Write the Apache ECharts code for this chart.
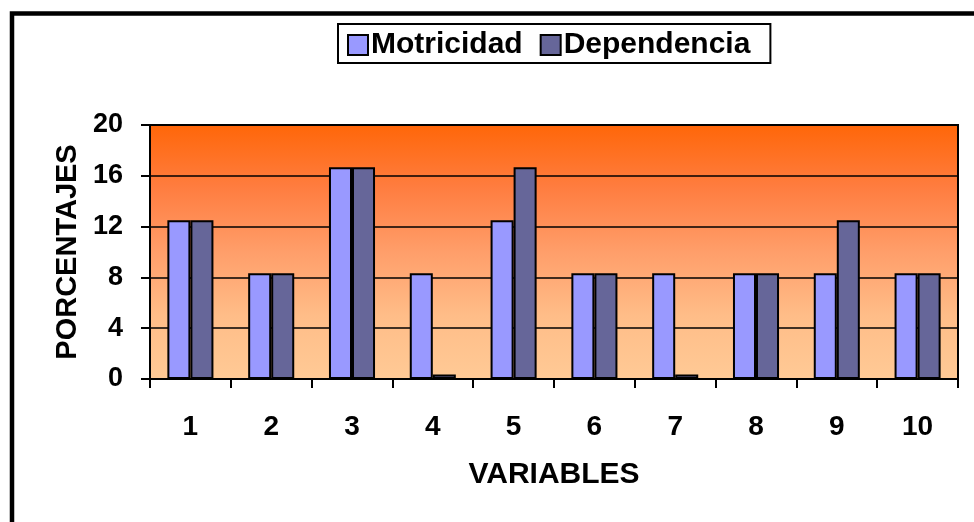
<!DOCTYPE html>
<html>
<head>
<meta charset="utf-8">
<script src="https://cdn.jsdelivr.net/npm/echarts@6/dist/echarts.min.js"></script>
<style>html,body{margin:0;padding:0;background:#fff}#c{width:974px;height:522px}</style>
</head>
<body>
<div id="c"></div>
<script>
const categories = ['1','2','3','4','5','6','7','8','9','10'];
const motricidad = [12.5, 8.33, 16.67, 8.33, 12.5, 8.33, 8.33, 8.33, 8.33, 8.33];
const dependencia = [12.5, 8.33, 16.67, 0.35, 16.67, 8.33, 0.35, 8.33, 12.5, 8.33];
const yTicks = [0, 4, 8, 12, 16, 20];

const chart = echarts.init(document.getElementById('c'), null, {renderer: 'canvas'});
const font = 'Liberation Sans, Arial, sans-serif';
chart.setOption({
  animation: false,
  backgroundColor: '#fff',
  graphic: [{
    type: 'rect', z: 100, silent: true,
    shape: {x: 12, y: 13.5, width: 1100, height: 700},
    style: {fill: 'none', stroke: '#000', lineWidth: 4.5}
  }],
  legend: {
    left: 338, top: 24,
    padding: [6, 20, 3, 9],
    itemGap: 17,
    itemWidth: 20, itemHeight: 20,
    icon: 'rect',
    borderColor: '#000', borderWidth: 2,
    textStyle: {fontFamily: font, fontWeight: 'bold', fontSize: 30, color: '#000', padding: [0,0,0,-2]},
    data: ['Motricidad', 'Dependencia']
  },
  grid: {
    left: 150, top: 125, right: 16, bottom: 143,
    show: true,
    borderColor: '#000', borderWidth: 2,
    backgroundColor: new echarts.graphic.LinearGradient(0, 0, 0, 1, [
      {offset: 0, color: '#FF6608'},
      {offset: 0.25, color: '#FF7D40'},
      {offset: 0.5, color: '#FF9E6A'},
      {offset: 0.75, color: '#FFBD88'},
      {offset: 1, color: '#FFCA96'}
    ])
  },
  xAxis: {
    type: 'category',
    data: categories,
    name: 'VARIABLES',
    nameLocation: 'middle',
    nameGap: 81,
    nameTextStyle: {fontFamily: font, fontWeight: 'bold', fontSize: 30, color: '#000'},
    axisLine: {lineStyle: {color: '#000', width: 2}},
    axisTick: {show: true, length: 9, lineStyle: {color: '#000', width: 2}},
    axisLabel: {fontFamily: font, fontWeight: 'bold', fontSize: 28, color: '#000', margin: 34}
  },
  yAxis: {
    type: 'value',
    min: yTicks[0], max: yTicks[yTicks.length - 1], interval: 4,
    name: 'PORCENTAJES',
    nameLocation: 'middle',
    nameGap: 67,
    nameTextStyle: {fontFamily: font, fontWeight: 'bold', fontSize: 29, color: '#000'},
    axisLine: {show: true, lineStyle: {color: '#000', width: 2}},
    axisTick: {show: true, length: 9, lineStyle: {color: '#000', width: 2}},
    splitLine: {show: true, lineStyle: {color: '#000', width: 1.5}},
    axisLabel: {fontFamily: font, fontWeight: 'bold', fontSize: 27, color: '#000', margin: 27}
  },
  series: [{
    name: 'Motricidad', type: 'bar', data: motricidad,
    barGap: '0%', barCategoryGap: '43%',
    itemStyle: {color: '#9999FF', borderColor: '#000', borderWidth: 2}
  }, {
    name: 'Dependencia', type: 'bar', data: dependencia,
    barGap: '0%', barCategoryGap: '43%',
    itemStyle: {color: '#666699', borderColor: '#000', borderWidth: 2}
  }]
});
</script>
</body>
</html>
